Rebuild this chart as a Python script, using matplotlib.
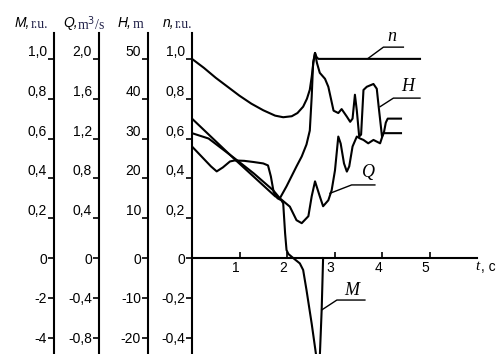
import matplotlib.pyplot as plt

# values (time in s)
t_n = [0, 0.25, 0.5, 0.75, 1.0, 1.25, 1.5, 1.75, 1.92, 2.1, 2.22, 2.34, 2.42, 2.48, 2.52, 2.56, 2.59, 2.62, 2.66, 4.8]
n_ru = [1.0, 0.955, 0.905, 0.86, 0.815, 0.775, 0.742, 0.715, 0.707, 0.712, 0.728, 0.76, 0.80, 0.845, 0.91, 0.99, 1.03, 1.01, 1.0, 1.0]

t_H = [0, 0.88, 1.75, 1.85, 1.99, 2.2, 2.31, 2.41, 2.48, 2.52, 2.55, 2.59, 2.63, 2.69, 2.8, 2.87, 2.98, 3.08,
       3.15, 3.26, 3.33, 3.38, 3.43, 3.47, 3.52, 3.56, 3.61, 3.68, 3.82, 3.89, 3.93, 4.0, 4.04, 4.08, 4.12, 4.4]
H_m = [35.0, 25.0, 15.5, 15.0, 18.0, 23.0, 25.5, 28.5, 32.0, 40.5, 49.0, 51.5, 49.0, 46.5, 45.0, 43.0, 37.0, 36.4,
       37.4, 35.5, 34.2, 35.0, 41.0, 37.0, 30.5, 31.0, 42.2, 43.0, 43.7, 42.5, 38.0, 30.5, 31.5, 34.0, 35.0, 35.0]

t_Q = [0, 0.35, 0.9, 1.3, 1.71, 1.85, 2.06, 2.2, 2.31, 2.45, 2.52, 2.59, 2.69, 2.76, 2.87, 2.94, 3.01, 3.08,
       3.13, 3.2, 3.26, 3.31, 3.38, 3.47, 3.54, 3.61, 3.71, 3.82, 3.96, 4.03, 4.4]
Q_m3s = [1.254, 1.2, 1.0, 0.85, 0.68, 0.6, 0.516, 0.38, 0.35, 0.42, 0.62, 0.77, 0.62, 0.52, 0.58, 0.68, 0.88, 1.22,
         1.15, 0.95, 0.868, 0.92, 1.12, 1.22, 1.2, 1.186, 1.152, 1.186, 1.152, 1.254, 1.254]

t_M = [0, 0.2, 0.4, 0.52, 0.65, 0.8, 0.9, 1.1, 1.3, 1.5, 1.6, 1.66, 1.72, 1.8, 1.88, 1.92, 1.96, 1.99, 2.03,
       2.08, 2.13, 2.27, 2.34, 2.41, 2.52, 2.62, 2.69, 2.73, 2.76]
M_ru = [0.56, 0.51, 0.46, 0.435, 0.455, 0.485, 0.49, 0.488, 0.482, 0.475, 0.465, 0.41, 0.33, 0.30, 0.29, 0.275,
        0.124, 0.04, 0.02, 0.01, 0.0, -0.027, -0.06, -0.16, -0.33, -0.5, -0.5, -0.26, 0.0]

n_ticks = [1.0, 0.8, 0.6, 0.4, 0.2, 0, -0.2, -0.4]
n_labels = ['1,0', '0,8', '0,6', '0,4', '0,2', '0', '-0,2', '-0,4']
M_labels = ['1,0', '0,8', '0,6', '0,4', '0,2', '0', '-2', '-4']
Q_ticks = [2.0, 1.6, 1.2, 0.8, 0.4, 0, -0.4, -0.8]
Q_labels = ['2,0', '1,6', '1,2', '0,8', '0,4', '0', '-0,4', '-0,8']
H_ticks = [50, 40, 30, 20, 10, 0, -10, -20]
H_labels = ['50', '40', '30', '20', '10', '0', '-10', '-20']
t_ticks = [1, 2, 3, 4, 5]

# curve name leaders: (curve point, knee, end), text position, all in r.u./s
leaders = {
    'n': ([3.71, 4.03, 4.45], [1.003, 1.059, 1.059], (4.21, 1.11)),
    'H': ([3.96, 4.24, 4.80], [0.760, 0.803, 0.803], (4.55, 0.86)),
    'Q': ([2.905, 3.36, 3.85], [0.325, 0.367, 0.367], (3.72, 0.43)),
    'M': ([2.73, 3.05, 3.64], [-0.261, -0.211, -0.211], (3.37, -0.165)),
}

W, H = 499, 354
LO, HI = -0.482, 1.13
lw = 1.5
tick_font = dict(family='Liberation Sans', size=10)

fig = plt.figure(figsize=(W / 100, H / 100), dpi=100)
rect = [192 / W, 0, 285 / W, 321 / H]
ax = fig.add_axes(rect)
ax.set_xlim(0, 6)
ax.set_ylim(LO, HI)
ax.spines['top'].set_visible(False)
ax.spines['right'].set_visible(False)
ax.spines['bottom'].set_position(('data', 0))
ax.spines['left'].set_linewidth(lw)
ax.spines['bottom'].set_linewidth(lw)


def style_y(a, ticks, labels):
    a.set_yticks(ticks)
    a.set_yticklabels(labels, fontdict=tick_font)
    a.tick_params(axis='y', direction='out', length=4, width=1.2, pad=1)
    for lab, v in zip(a.get_yticklabels(), ticks):
        if v > 0:
            lab.set_va('bottom')


def side_axis(pos, scale, ticks, labels):
    a = fig.add_axes(rect, sharex=ax)
    a.patch.set_visible(False)
    for s in ['top', 'right', 'bottom']:
        a.spines[s].set_visible(False)
    a.spines['left'].set_position(('axes', pos))
    a.spines['left'].set_linewidth(lw)
    a.set_ylim(LO * scale, HI * scale)
    a.tick_params(axis='x', bottom=False, labelbottom=False)
    style_y(a, ticks, labels)
    return a


style_y(ax, n_ticks, n_labels)
ax.set_xticks(t_ticks)
ax.set_xticklabels([str(v) for v in t_ticks], fontdict=tick_font)
ax.tick_params(axis='x', direction='in', length=4, width=1.2, pad=2)
for lab in ax.get_xticklabels():
    lab.set_ha('right')

axM = side_axis((54 - 192) / 285, 1.0, n_ticks, M_labels)
axQ = side_axis((99 - 192) / 285, 2.0, Q_ticks, Q_labels)
axH = side_axis((148 - 192) / 285, 50.0, H_ticks, H_labels)

ax.plot(t_n, n_ru, color='black', lw=lw)
axH.plot(t_H, H_m, color='black', lw=lw)
axQ.plot(t_Q, Q_m3s, color='black', lw=lw)
axM.plot(t_M, M_ru, color='black', lw=lw)

for name, (xs, ys, tpos) in leaders.items():
    ax.plot(xs, ys, color='black', lw=1.0)
    ax.text(tpos[0], tpos[1], name, family='Liberation Serif', style='italic',
            size=13, ha='center', va='center')

# axis titles above the scales
unit_col = '#22224a'
titles = [(15, 'M,', 31, 'r.u.'), (63, 'Q,', 77, 'm$^3$/s'), (118, 'H,', 133, 'm'), (163, 'n,', 175, 'r.u.')]
for x1, letter, x2, unit in titles:
    fig.text(x1 / W, 1 - 23 / H, letter, family='Liberation Sans', style='italic', size=10,
             ha='left', va='center')
    fig.text(x2 / W, 1 - 24 / H, unit, family='Liberation Serif', size=10, color=unit_col,
             ha='left', va='center')

fig.text(475 / W, 1 - 267 / H, 't', family='Liberation Serif', style='italic', size=11, ha='left', va='center')
fig.text(481 / W, 1 - 267 / H, ', c', family='Liberation Sans', size=10, ha='left', va='center')

fig.savefig('out.png', dpi=100)
